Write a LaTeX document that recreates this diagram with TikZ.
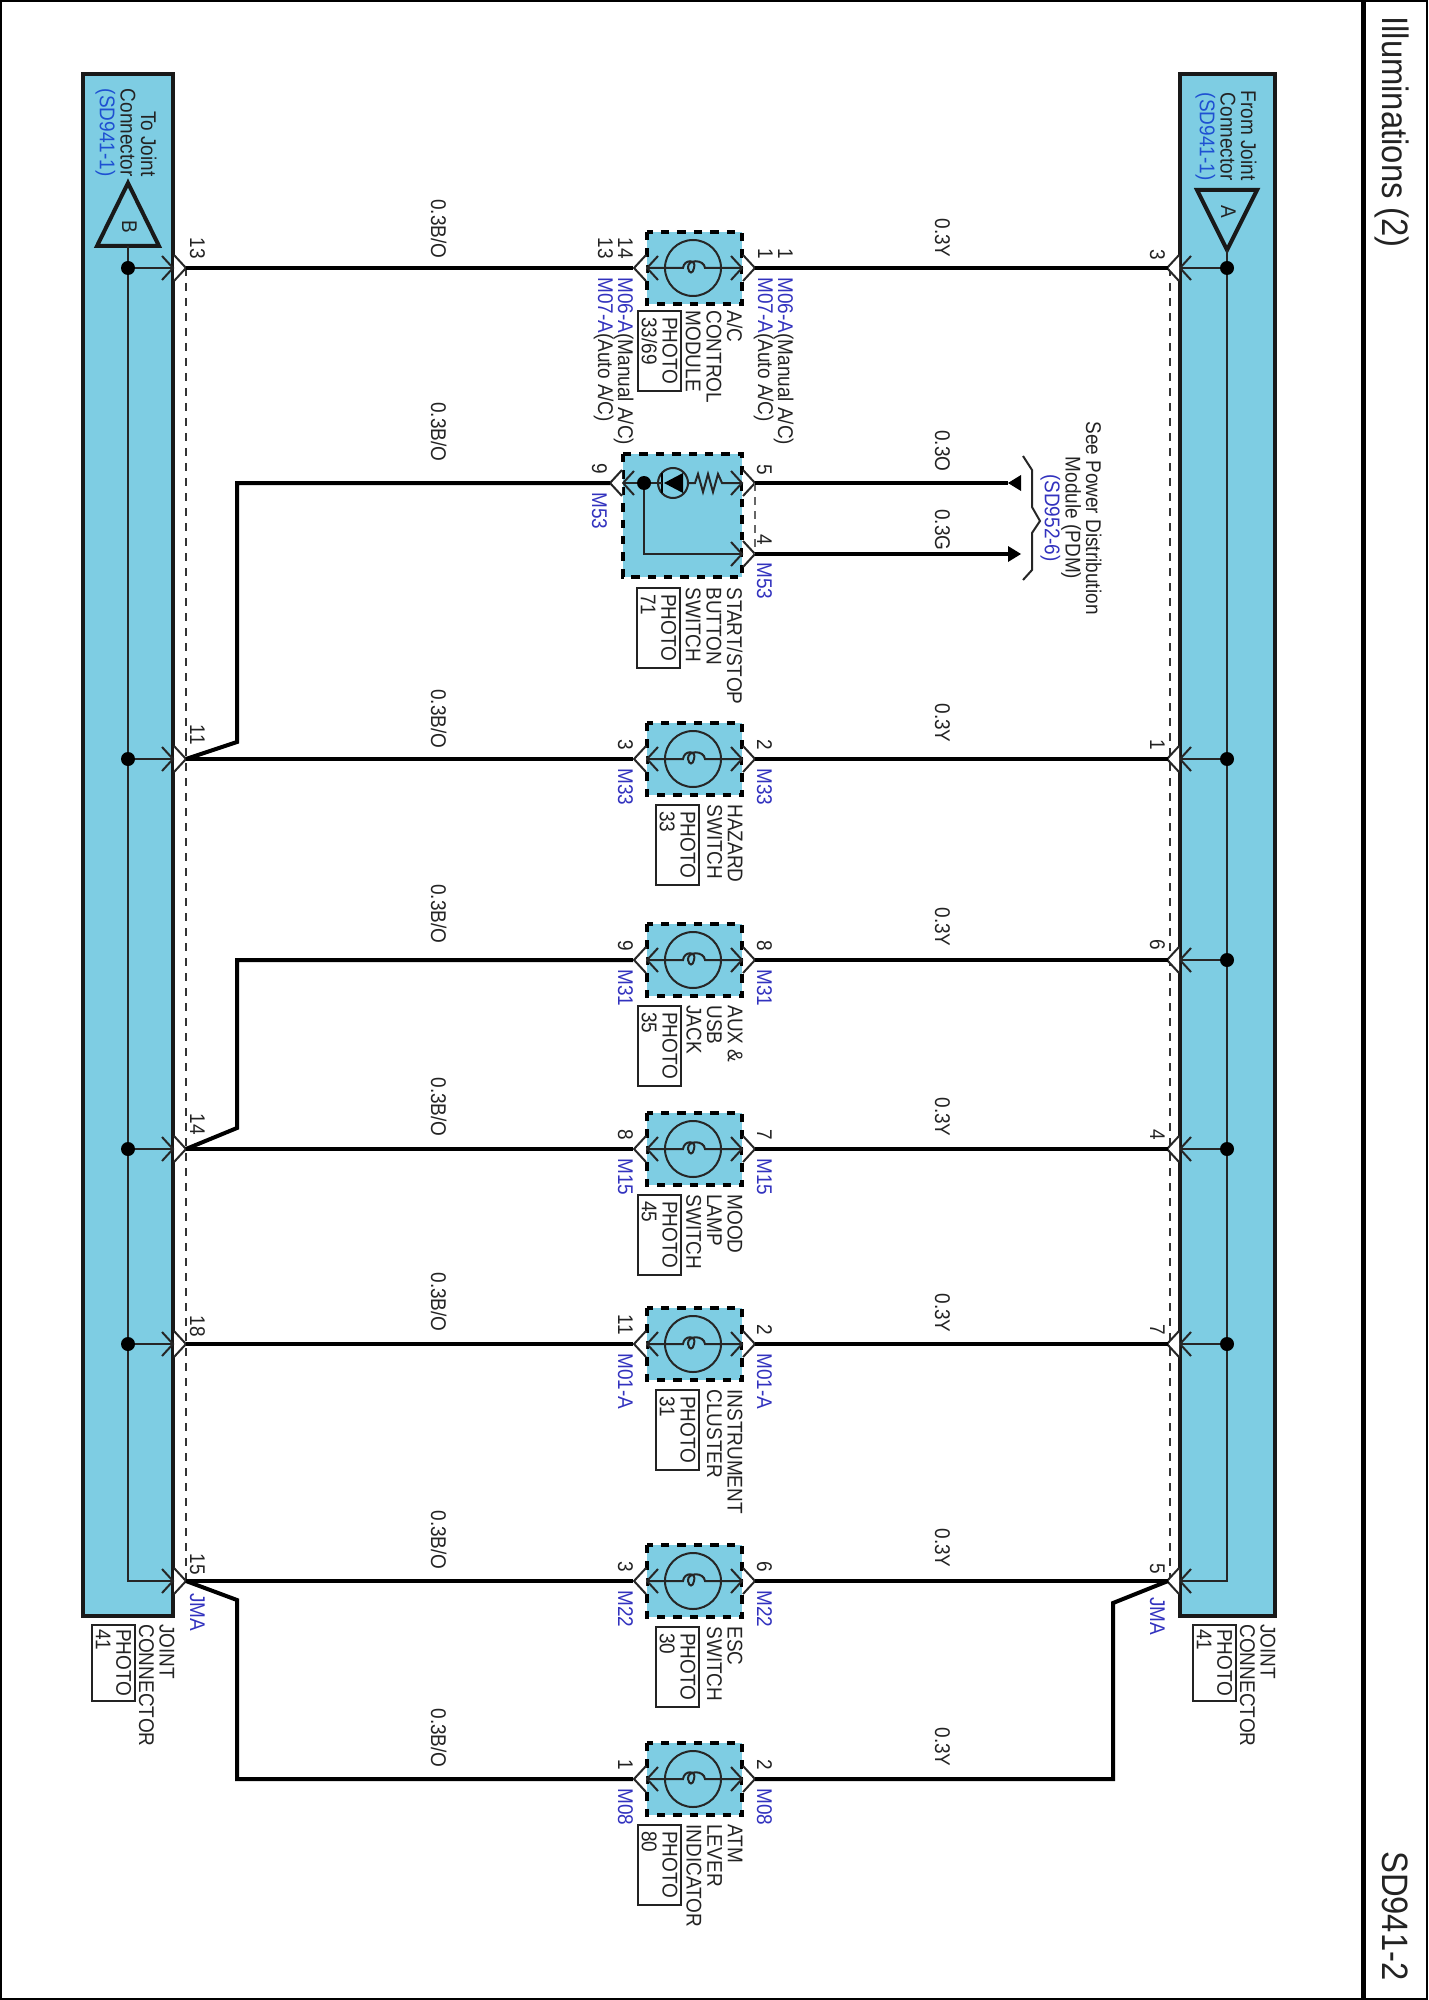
\documentclass[tikz,border=0pt]{standalone}
\usepackage{fontspec}
\setmainfont{Liberation Sans}
\definecolor{modblue}{RGB}{126,205,227}
\definecolor{pinblue}{RGB}{50,50,190}
\definecolor{refblue}{RGB}{30,80,210}
\definecolor{txtgray}{RGB}{35,35,35}
\tikzset{
  lbl/.style={rotate=-90,yscale=1.12,inner sep=0pt,text=txtgray,font=\fontsize{9.5}{9.2}\selectfont},
  pinlbl/.style={lbl,text=pinblue},
  title/.style={lbl,font=\fontsize{16.4}{18}\selectfont},
  photobox/.style={lbl,draw=txtgray,line width=0.8pt,align=left,minimum width=40pt,minimum height=19.2pt,anchor=north west},
  wire/.style={line width=2pt,line join=miter},
  thin wire/.style={line width=1pt,draw=black!85},
  brd/.style={line width=2pt,draw=black!90},
  hidden/.style={line width=0.8pt,dash pattern=on 4pt off 3.5pt,draw=black!80},
  dot/.style={circle,fill=black,inner sep=0pt,minimum size=7pt},
  pinl/.pic={
    \draw[thin wire] (11,-12) -- (0,0) -- (11,12);
    \draw[thin wire,fill=white] (-1,-13) -- (-13,0) -- (-1,13);
  },
  pinr/.pic={
    \draw[thin wire,fill=white] (1,-13) -- (13,0) -- (1,13);
    \draw[thin wire] (-11,-12) -- (0,0) -- (-11,12);
  },
  lampbox/.pic={
    \fill[modblue] (-47,-36) rectangle (48,36);
    \draw[line width=2pt,dash pattern=on 4.2pt off 4pt] (-47,-36) rectangle (48,36);
    \draw[thin wire] (-1,0) circle[radius=28];
    \draw[thin wire] (-47,0) -- (-11,0) .. controls (-10,-9) and (3,-9) .. (0,0) .. controls (-1,6) and (-5,6) .. (-6,0) .. controls (-7,-9) and (10,-9) .. (11,0) -- (48,0);
    \path (-47,0) pic {pinl} (48,0) pic {pinr};
  },
}
\begin{document}
\begin{tikzpicture}[x=0.5pt,y=-0.5pt]
\useasboundingbox (0,0) rectangle (1428,2000);
% frame and titles
\draw[line width=1pt] (1,1) rectangle (1427,1999);
\draw[line width=2.5pt] (1363,0) -- (1363,2000);
\node[title,anchor=base west] (ttl) at (1382,16) {Illuminations (2)};
\node[title,anchor=base east] (sdno) at (1382,1981) {SD941-2};

% joint connector bars
\draw[brd,fill=modblue] (83,74) rectangle (173,1616);
\draw[brd,fill=modblue] (1180,74) rectangle (1275,1616);
\draw[brd] (128,183) -- (159,246) -- (97,246) -- cycle;
\draw[brd] (1227,250) -- (1257,190) -- (1197,190) -- cycle;
\node[lbl,anchor=base] (triB) at (122,227) {B};
\node[lbl,anchor=base] (triA) at (1221,212) {A};
\draw[thin wire] (128,246) -- (128,1581) -- (173,1581);
\draw[thin wire] (1227,250) -- (1227,1581) -- (1180,1581);
\node[lbl,anchor=north east,align=right] (toj) at (157,177) {To Joint\\Connector\\\textcolor{refblue}{(SD941-1)}};
\node[lbl,anchor=north east,align=right] (fromj) at (1257,181) {From Joint\\Connector\\\textcolor{refblue}{(SD941-1)}};
\node[photobox,minimum width=38pt] (ph41l) at (136,1624) {PHOTO\\41};
\node[photobox,minimum width=38pt] (ph41r) at (1237,1624) {PHOTO\\41};
\node[lbl,anchor=north west,align=left] (jcl) at (175,1624) {JOINT\\CONNECTOR};
\node[lbl,anchor=north west,align=left] (jcr) at (1276,1624) {JOINT\\CONNECTOR};
\node[pinlbl,anchor=base west] (jmal) at (190,1593) {JMA};
\node[pinlbl,anchor=base west] (jmar) at (1150,1597) {JMA};

% bus hidden lines
\draw[hidden] (186,268) -- (186,1581);
\draw[hidden] (1170,268) -- (1170,1581);

% lamp modules
\foreach \k/\y/\ln/\rn/\conn/\pho/\phx/\modname in {
  hzd/759/3/2/M33/33/700/{HAZARD\\SWITCH},
  aux/960/9/8/M31/35/682/{AUX \&\\USB\\JACK},
  mood/1149/8/7/M15/45/682/{MOOD\\LAMP\\SWITCH},
  inst/1344/11/2/M01-A/31/700/{INSTRUMENT\\CLUSTER},
  esc/1581/3/6/M22/30/700/{ESC\\SWITCH},
  atm/1779/1/2/M08/80/682/{ATM\\LEVER\\INDICATOR}}{
  \pgfmathtruncatemacro{\ya}{\y-9}
  \pgfmathtruncatemacro{\yb}{\y+9}
  \pgfmathtruncatemacro{\yc}{\y+45}
  \pic at (694,\y) {lampbox};
  \coordinate (\k-l) at (633,\y);
  \coordinate (\k-r) at (755,\y);
  \node[lbl,anchor=base east] (\k-ln) at (618,\ya) {\ln};
  \node[lbl,anchor=base east] (\k-rn) at (757,\ya) {\rn};
  \node[pinlbl,anchor=base west] (\k-lc) at (618,\yb) {\conn};
  \node[pinlbl,anchor=base west] (\k-rc) at (757,\yb) {\conn};
  \node[lbl,anchor=north west,align=left] (\k-name) at (743,\yc) {\modname};
  \node[photobox] (\k-ph) at (\phx,\yc) {PHOTO\\\pho};
}

% A/C control module
\pic at (694,268) {lampbox};
\coordinate (ac-l) at (633,268);
\coordinate (ac-r) at (755,268);
\node[lbl,anchor=base east] (ac-ln1) at (618,259) {14};
\node[lbl,anchor=base east] (ac-ln2) at (598,259) {13};
\node[lbl,anchor=base east] (ac-rn1) at (778,259) {1};
\node[lbl,anchor=base east] (ac-rn2) at (758,259) {1};
\node[lbl,anchor=base west] (ac-lc1) at (618,277) {\textcolor{pinblue}{M06-A}(Manual A/C)};
\node[lbl,anchor=base west] (ac-lc2) at (598,277) {\textcolor{pinblue}{M07-A}(Auto A/C)};
\node[lbl,anchor=base west] (ac-rc1) at (778,277) {\textcolor{pinblue}{M06-A}(Manual A/C)};
\node[lbl,anchor=base west] (ac-rc2) at (758,277) {\textcolor{pinblue}{M07-A}(Auto A/C)};
\node[lbl,anchor=north west,align=left] (ac-name) at (743,310) {A/C\\CONTROL\\MODULE};
\node[photobox] (ac-ph) at (682,310) {PHOTO\\33/69};

% start/stop button switch
\fill[modblue] (623,454) rectangle (742,577);
\draw[line width=2pt,dash pattern=on 4.2pt off 4pt] (623,454) rectangle (742,577);
\pic at (623,483) {pinl};
\pic at (742,483) {pinr};
\pic at (742,554) {pinr};
\coordinate (st-l) at (610,483);
\coordinate (st-r5) at (755,483);
\coordinate (st-r4) at (755,554);
\node[dot] (st-dot) at (644,483) {};
\coordinate (st-out) at (742,554);
\draw[thin wire] (623,483) -- (st-dot) -- (658,483);
\draw[thin wire] (673,483) circle[radius=15];
\fill (683,473) -- (683,493) -- (664,483) -- cycle;
\draw[line width=1.4pt] (662,473) -- (662,493);
\draw[thin wire] (658,483) -- (662,483) (688,483) -- (695,483) -- (698,474) -- (703,492) -- (708,474) -- (713,492) -- (718,474) -- (722,483) -- (742,483);
\draw[thin wire] (st-dot) |- (st-out);
\draw[thin wire,dash pattern=on 4pt off 3pt,draw=black!60] (st-r5) -- (st-r4);
\node[lbl,anchor=base east] (st-ln) at (592,474) {9};
\node[lbl,anchor=base east] (st-rn5) at (757,475) {5};
\node[lbl,anchor=base east] (st-rn4) at (757,545) {4};
\node[pinlbl,anchor=base west] (st-lc) at (592,492) {M53};
\node[pinlbl,anchor=base west] (st-rc) at (757,562) {M53};
\node[lbl,anchor=north west,align=left] (st-name) at (743,587) {START/STOP\\BUTTON\\SWITCH};
\node[photobox] (st-ph) at (681,587) {PHOTO\\71};

% left and right joint pins
\foreach \k/\y/\ln/\yl in {a/268/13/259,b/759/11/745,c/1149/14/1135,d/1344/18/1337,e/1581/15/1575}{
  \coordinate (bl-\k) at (186,\y);
  \pic at (173,\y) {pinr};
  \node[lbl,anchor=base east] (bl-\k n) at (190,\yl) {\ln};
}
\foreach \k/\y/\rn/\yl in {a/268/3/260,b/759/1/750,c/960/6/950,d/1149/4/1140,f/1344/7/1335,e/1581/5/1574}{
  \coordinate (br-\k) at (1168,\y);
  \pic at (1180,\y) {pinl};
  \node[lbl,anchor=base east] (br-\k n) at (1150,\yl) {\rn};
}
\foreach \y in {268,759,1149,1344}{
  \node[dot] (dl\y) at (128,\y) {};
  \draw[thin wire] (dl\y) -- (173,\y);
}
\foreach \y in {268,759,960,1149,1344}{
  \node[dot] (dr\y) at (1227,\y) {};
  \draw[thin wire] (dr\y) -- (1180,\y);
}

% wires
\coordinate (brk-11) at (237,742);
\coordinate (brk-14) at (237,1128);
\coordinate (brk-15) at (237,1600);
\coordinate (brk-5) at (1113,1603);
\draw[wire] (bl-a) -- (ac-l);
\draw[wire] (bl-b) -- (hzd-l);
\draw[wire] (bl-c) -- (mood-l);
\draw[wire] (bl-d) -- (inst-l);
\draw[wire] (bl-e) -- (esc-l);
\draw[wire] (bl-b) -- (brk-11) |- (st-l);
\draw[wire] (bl-c) -- (brk-14) |- (aux-l);
\draw[wire] (bl-e) -- (brk-15) |- (atm-l);
\draw[wire] (ac-r) -- (br-a);
\draw[wire] (hzd-r) -- (br-b);
\draw[wire] (aux-r) -- (br-c);
\draw[wire] (mood-r) -- (br-d);
\draw[wire] (inst-r) -- (br-f);
\draw[wire] (esc-r) -- (br-e);
\draw[wire] (br-e) -- (brk-5) |- (atm-r);

% wire colours
\foreach \k/\y in {a/229,b/432,c/719,d/914,e/1107,f/1302,g/1540,h/1738}{
  \node[lbl,anchor=base] (bo\k) at (431,\y) {0.3B/O};
}
\foreach \k/\y/\t in {a/238/0.3Y,b/451/0.3O,c/530/0.3G,d/723/0.3Y,e/927/0.3Y,f/1117/0.3Y,g/1313/0.3Y,h/1548/0.3Y,i/1747/0.3Y}{
  \node[lbl,anchor=base] (yl\k) at (935,\y) {\t};
}

% power distribution
\coordinate (pdm-o) at (1008,483);
\coordinate (pdm-g) at (1008,554);
\draw[wire] (st-r5) -- (pdm-o);
\draw[wire] (st-r4) -- (pdm-g);
\fill (pdm-o) -- (1021,475) -- (1021,491) -- cycle;
\fill (1021,554) -- (1008,546) -- (1008,562) -- cycle;
\draw[thin wire] (1023,456) -- (1032,470) -- (1032,507) -- (1040,521) -- (1032,533) -- (1032,570) -- (1023,580);
\node[lbl,anchor=north,align=center] (pdm) at (1102,518) {See Power Distribution\\Module (PDM)\\\textcolor{pinblue}{(SD952-6)}};
\end{tikzpicture}
\end{document}
